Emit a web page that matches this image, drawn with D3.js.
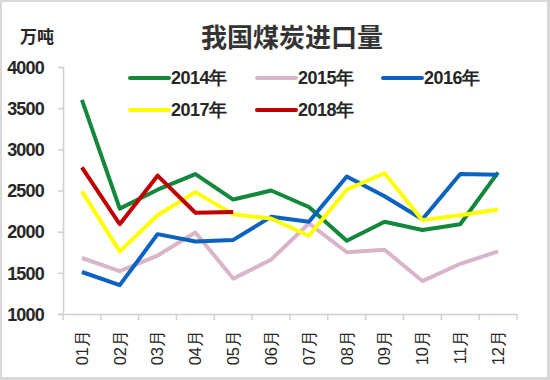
<!DOCTYPE html>
<html><head><meta charset="utf-8">
<script src="https://cdn.jsdelivr.net/npm/d3@7/dist/d3.min.js"></script>
<style>body{margin:0;background:#fff;}svg{display:block;}</style>
</head><body>
<svg id="c" width="550" height="380"></svg>
<script>
const months = ["01月","02月","03月","04月","05月","06月","07月","08月","09月","10月","11月","12月"];
const yTicks = [1000,1500,2000,2500,3000,3500,4000];
const seriesNames = ["2014年","2015年","2016年","2017年","2018年"];
const s2014 = [3600,2280,2510,2700,2390,2500,2300,1890,2120,2020,2090,2720];
const s2015 = [1680,1520,1710,1990,1430,1660,2100,1750,1780,1400,1610,1760];
const s2016 = [1510,1350,1970,1880,1900,2180,2120,2670,2430,2150,2700,2690];
const s2017 = [2490,1760,2200,2480,2210,2160,1950,2510,2710,2140,2200,2270];
const s2018 = [2780,2090,2680,2230,2240];
const colors = ["#13883c","#d9b5c9","#0b62bf","#ffff00","#c00000"];

const allSeries = [s2014,s2015,s2016,s2017,s2018];
const svg = d3.select("#c");
svg.append("rect").attr("x",0).attr("y",0).attr("width",550).attr("height",380).attr("fill","#d9d9d9");
svg.append("rect").attr("x",2).attr("y",2).attr("width",545).attr("height",375).attr("fill","#fff");

const x = d3.scaleBand().domain(months).range([63,517]);
const y = d3.scaleLinear().domain([1000,4000]).range([314,67]);

const font = "'Liberation Sans', Arial, sans-serif";

// y axis
const ya = svg.append("g").attr("transform","translate(63,0)")
  .call(d3.axisLeft(y).tickValues(yTicks).tickSize(5).tickPadding(14).tickFormat(d3.format("d")));
ya.select(".domain").attr("stroke","#d0d0d0").attr("stroke-width",1.5);
ya.selectAll(".tick line").attr("stroke","#d0d0d0").attr("stroke-width",1.5);
ya.selectAll("text").attr("font-family",font).attr("font-size",18).attr("font-weight","bold")
  .attr("fill","#262626").attr("letter-spacing","-0.8px").attr("dy","0.35em");

// x axis
const xa = svg.append("g").attr("transform","translate(0,314)")
  .call(d3.axisBottom(x).tickSize(0).tickFormat(d=>d));
xa.select(".domain").attr("stroke","#d0d0d0").attr("stroke-width",1.5);
xa.selectAll(".tick text").attr("font-family",font).attr("font-size",16.5)
  .attr("fill","#262626").attr("text-anchor","end")
  .attr("transform","translate(0,16) rotate(-90)").attr("dy","0.35em").attr("x",0).attr("y",0);
// boundary ticks
const bounds = months.map(m=>x(m)).concat([x.range()[1]]);
svg.append("g").selectAll("line").data(bounds).join("line")
  .attr("x1",d=>d).attr("x2",d=>d).attr("y1",314).attr("y2",320)
  .attr("stroke","#d0d0d0").attr("stroke-width",1.5);

// lines
const line = d3.line().x((d,i)=>x(months[i])+x.bandwidth()/2).y(d=>y(d));
svg.append("g").selectAll("path").data(allSeries).join("path")
  .attr("d",d=>line(d)).attr("fill","none")
  .attr("stroke",(d,i)=>colors[i]).attr("stroke-width",4).attr("stroke-linejoin","round");

// legend
const legPos = [[130,78],[257,78],[383,78],[130,110],[257,110]];
const lg = svg.append("g").selectAll("g").data(seriesNames).join("g")
  .attr("transform",(d,i)=>`translate(${legPos[i][0]},${legPos[i][1]})`);
lg.append("line").attr("x1",0).attr("x2",39).attr("y1",0).attr("y2",0)
  .attr("stroke",(d,i)=>colors[i]).attr("stroke-width",4).attr("stroke-linecap","round");
lg.append("text").attr("x",41).attr("y",0).attr("dy","0.35em").text(d=>d)
  .attr("font-family",font).attr("font-size",18).attr("font-weight","bold").attr("fill","#262626")
  .attr("letter-spacing","-0.5px");

// title
svg.append("text").attr("x",292).attr("y",38).attr("dy","0.35em").attr("text-anchor","middle")
  .attr("font-family","'Noto Sans CJK SC', sans-serif").attr("font-size",26).attr("font-weight","bold")
  .attr("fill","#333").text("我国煤炭进口量");
// unit
svg.append("text").attr("x",37).attr("y",37).attr("dy","0.35em").attr("text-anchor","middle")
  .attr("font-family","'Noto Sans CJK SC', sans-serif").attr("font-size",17).attr("font-weight","bold")
  .attr("fill","#262626").text("万吨");
</script>
</body></html>
